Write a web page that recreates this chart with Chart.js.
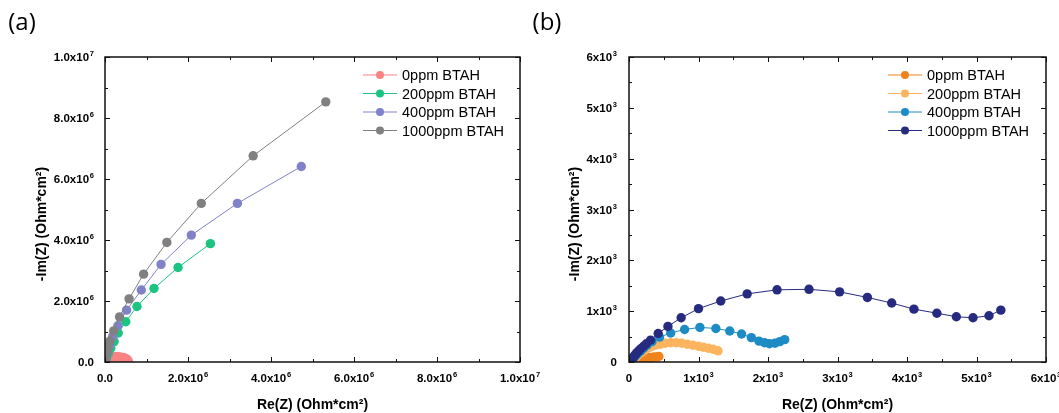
<!DOCTYPE html>
<html>
<head>
<meta charset="utf-8">
<script src="https://cdn.jsdelivr.net/npm/chart.js@4.4.0/dist/chart.umd.min.js"></script>
<style>
  body { margin: 0; background: #fff; }
  #wrap { position: relative; width: 1059px; height: 413px; overflow: hidden; }
  canvas { position: absolute; top: 0; }
</style>
</head>
<body>
<div id="wrap">
  <canvas id="chartA" width="560" height="413" style="left:0"></canvas>
  <canvas id="chartB" width="529" height="413" style="left:530px"></canvas>
</div>
<script>
var seriesNames = ['0ppm BTAH', '200ppm BTAH', '400ppm BTAH', '1000ppm BTAH'];

// panel (a), Ohm*cm2
var reA0 = [0.015e6, 0.03e6, 0.05e6, 0.07e6, 0.10e6, 0.13e6, 0.17e6, 0.21e6, 0.25e6, 0.29e6, 0.33e6, 0.37e6, 0.41e6, 0.44e6, 0.47e6, 0.50e6, 0.52e6, 0.54e6, 0.55e6, 0.56e6];
var imA0 = [0.03e6, 0.06e6, 0.09e6, 0.12e6, 0.14e6, 0.16e6, 0.17e6, 0.17e6, 0.17e6, 0.17e6, 0.17e6, 0.16e6, 0.15e6, 0.14e6, 0.13e6, 0.11e6, 0.09e6, 0.07e6, 0.05e6, 0.03e6];
var reA200 = [0.01e6, 0.02e6, 0.04e6, 0.08e6, 0.14e6, 0.22e6, 0.32e6, 0.50e6, 0.77e6, 1.18e6, 1.76e6, 2.54e6];
var imA200 = [0.02e6, 0.07e6, 0.15e6, 0.28e6, 0.45e6, 0.67e6, 0.95e6, 1.32e6, 1.82e6, 2.41e6, 3.10e6, 3.88e6];
var reA400 = [0.005e6, 0.015e6, 0.03e6, 0.06e6, 0.11e6, 0.185e6, 0.31e6, 0.52e6, 0.875e6, 1.35e6, 2.08e6, 3.19e6, 4.73e6];
var imA400 = [0.03e6, 0.09e6, 0.20e6, 0.36e6, 0.56e6, 0.83e6, 1.19e6, 1.70e6, 2.36e6, 3.20e6, 4.16e6, 5.20e6, 6.41e6];
var reA1000 = [0.005e6, 0.01e6, 0.02e6, 0.04e6, 0.07e6, 0.12e6, 0.21e6, 0.35e6, 0.58e6, 0.93e6, 1.49e6, 2.32e6, 3.57e6, 5.32e6];
var imA1000 = [0.02e6, 0.06e6, 0.15e6, 0.28e6, 0.45e6, 0.69e6, 1.02e6, 1.48e6, 2.07e6, 2.88e6, 3.92e6, 5.20e6, 6.76e6, 8.53e6];

// panel (b), Ohm*cm2
var reB0 = [30, 60, 90, 120, 160, 200, 240, 280, 320, 360, 400, 430];
var imB0 = [20, 50, 70, 80, 90, 90, 90, 90, 90, 100, 100, 110];
var reB200 = [50, 80, 110, 140, 180, 220, 270, 320, 380, 450, 520, 600, 680, 760, 840, 920, 1000, 1070, 1140, 1210, 1280];
var imB200 = [30, 70, 110, 150, 190, 230, 270, 300, 330, 350, 370, 380, 380, 370, 350, 330, 310, 290, 270, 250, 220];
var reB400 = [30, 40, 60, 80, 100, 130, 170, 210, 260, 330, 440, 600, 800, 1020, 1250, 1450, 1620, 1760, 1870, 1950, 2020, 2100, 2170, 2240];
var imB400 = [20, 40, 70, 100, 130, 170, 220, 270, 330, 400, 490, 570, 640, 680, 660, 610, 550, 480, 410, 380, 360, 370, 400, 440];
var reB1000 = [20, 30, 50, 70, 90, 110, 140, 170, 210, 250, 310, 420, 560, 750, 1000, 1320, 1700, 2130, 2590, 3030, 3430, 3780, 4100, 4430, 4710, 4950, 5180, 5350];
var imB1000 = [20, 40, 70, 110, 140, 180, 220, 260, 310, 360, 430, 560, 700, 870, 1050, 1200, 1340, 1420, 1430, 1380, 1270, 1160, 1040, 960, 890, 870, 910, 1020];

// axis ticks (text after ^ is the exponent)
var ticksA = [0, 2e6, 4e6, 6e6, 8e6, 1e7];
var tickLabelsA = ['0.0', '2.0x10^6', '4.0x10^6', '6.0x10^6', '8.0x10^6', '1.0x10^7'];
var ticksB = [0, 1000, 2000, 3000, 4000, 5000, 6000];
var tickLabelsB = ['0', '1x10^3', '2x10^3', '3x10^3', '4x10^3', '5x10^3', '6x10^3'];

var colorsA = ['#fb8383', '#1cc482', '#8181c9', '#808080'];
var colorsB = ['#f0841c', '#fdb45e', '#1d8bc4', '#272b80'];

var FONT = '"Liberation Sans", Arial, sans-serif';

function pts(xs, ys) {
  return xs.map(function(x, i) { return { x: x, y: ys[i] }; });
}

function makeSet(name, xs, ys, color, order) {
  return {
    label: name,
    data: pts(xs, ys),
    showLine: true,
    borderColor: color,
    backgroundColor: color,
    borderWidth: 1,
    pointRadius: 4.7,
    pointBorderWidth: 0,
    pointHoverRadius: 4.7,
    order: order
  };
}

// frame with inward ticks, tick labels, axis titles, legend, panel letter
var framePlugin = {
  id: 'frame',
  afterDraw: function(chart) {
    var o = chart.options.plugins.frame;
    var ctx = chart.ctx, a = chart.chartArea;
    var sx = chart.scales.x, sy = chart.scales.y;
    ctx.save();
    ctx.strokeStyle = '#111';
    ctx.lineWidth = 1;
    function tickMarks(vals, len) {
      vals.forEach(function(v) {
        var px = Math.round(sx.getPixelForValue(v)) + 0.5;
        var py = Math.round(sy.getPixelForValue(v)) + 0.5;
        ctx.beginPath();
        ctx.moveTo(px, a.bottom); ctx.lineTo(px, a.bottom - len);
        ctx.moveTo(px, a.top); ctx.lineTo(px, a.top + len);
        ctx.moveTo(a.left, py); ctx.lineTo(a.left + len, py);
        ctx.moveTo(a.right, py); ctx.lineTo(a.right - len, py);
        ctx.stroke();
      });
    }
    var minor = [];
    for (var i = 0; i < o.ticks.length - 1; i++) minor.push((o.ticks[i] + o.ticks[i + 1]) / 2);
    tickMarks(o.ticks, 5);
    tickMarks(minor, 3);
    ctx.lineWidth = 1.5;
    ctx.strokeRect(a.left, a.top, a.right - a.left, a.bottom - a.top);

    // tick labels with raised exponent
    ctx.fillStyle = '#000';
    ctx.textBaseline = 'alphabetic';
    ctx.textAlign = 'left';
    function tickLabel(text, x, y, align) {
      var parts = text.split('^');
      ctx.font = 'bold 11.5px ' + FONT;
      var wb = ctx.measureText(parts[0]).width, we = 0;
      if (parts[1]) {
        ctx.font = 'bold 7.5px ' + FONT;
        we = ctx.measureText(parts[1]).width + 0.8;
      }
      var x0 = align === 'center' ? x - (wb + we) / 2 : x - wb - we;
      ctx.font = 'bold 11.5px ' + FONT;
      ctx.fillText(parts[0], x0, y);
      if (parts[1]) {
        ctx.font = 'bold 7.5px ' + FONT;
        ctx.fillText(parts[1], x0 + wb + 0.8, y - 5);
      }
    }
    o.ticks.forEach(function(v, k) {
      tickLabel(o.labels[k], sx.getPixelForValue(v), 382, 'center');
      tickLabel(o.labels[k], a.left - o.yGap, sy.getPixelForValue(v) + 4, 'right');
    });

    // axis titles
    ctx.font = 'bold 14px ' + FONT;
    ctx.textAlign = 'center';
    ctx.textBaseline = 'middle';
    ctx.fillText('Re(Z) (Ohm*cm\u00b2)', (a.left + a.right) / 2, 405);
    ctx.save();
    ctx.translate(o.yTitleX, 224);
    ctx.rotate(-Math.PI / 2);
    ctx.fillText('-Im(Z) (Ohm*cm\u00b2)', 0, 0);
    ctx.restore();

    // panel letter
    ctx.font = '24px "Open Sans", sans-serif';
    ctx.fillText(o.letter, o.letterX, 23);

    // legend
    ctx.font = '14.5px ' + FONT;
    ctx.textAlign = 'left';
    chart.data.datasets.forEach(function(ds, k) {
      var y = 75 + k * 18.5;
      ctx.strokeStyle = ds.borderColor;
      ctx.fillStyle = ds.borderColor;
      ctx.lineWidth = 1;
      ctx.beginPath();
      ctx.moveTo(o.legendX, y); ctx.lineTo(o.legendX + 34, y);
      ctx.stroke();
      ctx.beginPath();
      ctx.arc(o.legendX + 17, y, 4, 0, Math.PI * 2);
      ctx.fill();
      ctx.fillStyle = '#000';
      ctx.fillText(ds.label, o.legendX + 39, y + 1);
    });
    ctx.restore();
  }
};

function makeConfig(datasets, ticks, yWidth, padRight, extra) {
  function axis(isX) {
    return {
      type: 'linear',
      min: ticks[0],
      max: ticks[ticks.length - 1],
      grid: { display: false },
      border: { display: false },
      ticks: { display: false },
      afterBuildTicks: function(scale) {
        scale.ticks = ticks.map(function(v) { return { value: v }; });
      },
      afterFit: function(scale) {
        if (isX) scale.height = 51; else scale.width = yWidth;
        scale.paddingLeft = 0; scale.paddingRight = 0;
        scale.paddingTop = 0; scale.paddingBottom = 0;
      }
    };
  }
  return {
    type: 'scatter',
    data: { datasets: datasets },
    options: {
      responsive: false,
      animation: false,
      layout: { padding: { top: 57, right: padRight, bottom: 0, left: 0 } },
      scales: { x: axis(true), y: axis(false) },
      plugins: {
        legend: { display: false },
        tooltip: { enabled: false },
        frame: extra
      }
    },
    plugins: [framePlugin]
  };
}

var setsA = [
  makeSet(seriesNames[0], reA0, imA0, colorsA[0], 3),
  makeSet(seriesNames[1], reA200, imA200, colorsA[1], 2),
  makeSet(seriesNames[2], reA400, imA400, colorsA[2], 1),
  makeSet(seriesNames[3], reA1000, imA1000, colorsA[3], 0)
];
var setsB = [
  makeSet(seriesNames[0], reB0, imB0, colorsB[0], 3),
  makeSet(seriesNames[1], reB200, imB200, colorsB[1], 2),
  makeSet(seriesNames[2], reB400, imB400, colorsB[2], 1),
  makeSet(seriesNames[3], reB1000, imB1000, colorsB[3], 0)
];

new Chart(document.getElementById('chartA').getContext('2d'),
  makeConfig(setsA, ticksA, 105, 40,
    { ticks: ticksA, labels: tickLabelsA, yGap: 11, yTitleX: 42, letter: '(a)', letterX: 22, legendX: 363 }));

new Chart(document.getElementById('chartB').getContext('2d'),
  makeConfig(setsB, ticksB, 99, 13,
    { ticks: ticksB, labels: tickLabelsB, yGap: 12, yTitleX: 45, letter: '(b)', letterX: 17, legendX: 358 }));
</script>
</body>
</html>
